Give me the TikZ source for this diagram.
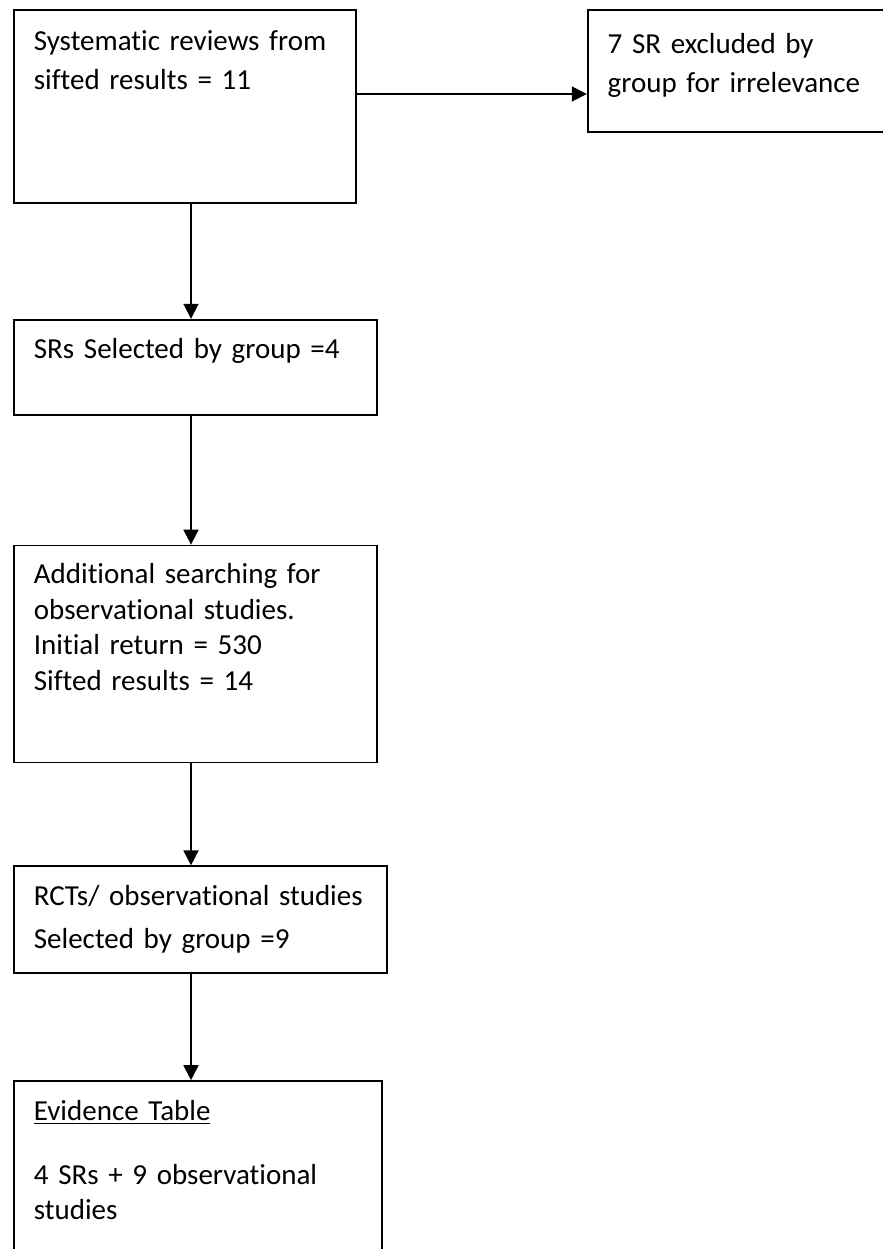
\documentclass[tikz,border=0pt]{standalone}
\usepackage{fontspec}
\setmainfont{Carlito}[Ligatures=NoCommon]
\usetikzlibrary{positioning, arrows.meta, calc}

\begin{document}
\begin{tikzpicture}[
    x=0.5pt, y=-0.5pt,
    >={Triangle[width=7.5pt, length=7.5pt]},
    line width=0.9pt,
    % Styles
    stage/.style={
        draw, rectangle, inner sep=0pt,
        minimum width=#1
    },
    stagetext/.style={
        anchor=base west, inner sep=0pt,
        text width=175pt, align=left,
        font=\fontsize{14.5pt}{#1}\selectfont
    },
    stagetext/.default=18pt
  ]

    % --- Page frame ---
    \useasboundingbox (0,0) rectangle (883,1249);

    % --- Boxes of the flow ---
    \node (sr)     [stage=171pt, minimum height=96.5pt, anchor=north west] at (13,9) {};
    \node (excl)   [stage=200pt, minimum height=61pt, right=115pt of sr.north east, anchor=north west] {};
    \node (srsel)  [stage=181.5pt, minimum height=47.5pt, below=57.5pt of sr.south west, anchor=north west] {};
    \node (search) [stage=181.5pt, minimum height=108.5pt, below=64.5pt of srsel.south west, anchor=north west] {};
    \node (rct)    [stage=186.5pt, minimum height=53.5pt, below=51pt of search.south west, anchor=north west] {};
    \node (table)  [stage=184pt, minimum height=100pt, below=53pt of rct.south west, anchor=north west] {};

    % --- Texts of the boxes ---
    \node[stagetext=19.5pt] at ([xshift=10pt, yshift=-20.5pt]sr.north west) {Systematic reviews from\\sifted results = 11};
    \node[stagetext=19.5pt] at ([xshift=10pt, yshift=-22pt]excl.north west) {7 SR excluded by\\group for irrelevance};
    \node[stagetext] at ([xshift=10pt, yshift=-20pt]srsel.north west) {SRs Selected by group =4};
    \node[stagetext=17.8pt] at ([xshift=10pt, yshift=-19.5pt]search.north west) {Additional searching for\\observational studies.\\Initial return = 530\\Sifted results = 14};
    \node[stagetext=21.5pt] at ([xshift=10pt, yshift=-20pt]rct.north west) {RCTs/ observational studies\\Selected by group =9};
    \node[stagetext=17.5pt] at ([xshift=10pt, yshift=-20pt]table.north west) {\underline{Evidence Table}\\[14.5pt]4 SRs + 9 observational\\studies};

    % --- Connectors ---
    \coordinate (spine) at (191,0);
    \coordinate (exclrow) at (0,94);
    \draw[->] (sr.east |- exclrow) -- (excl.west |- exclrow);
    \draw[->] (sr.south -| spine) -- (srsel.north -| spine);
    \draw[->] (srsel.south -| spine) -- (search.north -| spine);
    \draw[->] (search.south -| spine) -- (rct.north -| spine);
    \draw[->] (rct.south -| spine) -- (table.north -| spine);

  \end{tikzpicture}
\end{document}
